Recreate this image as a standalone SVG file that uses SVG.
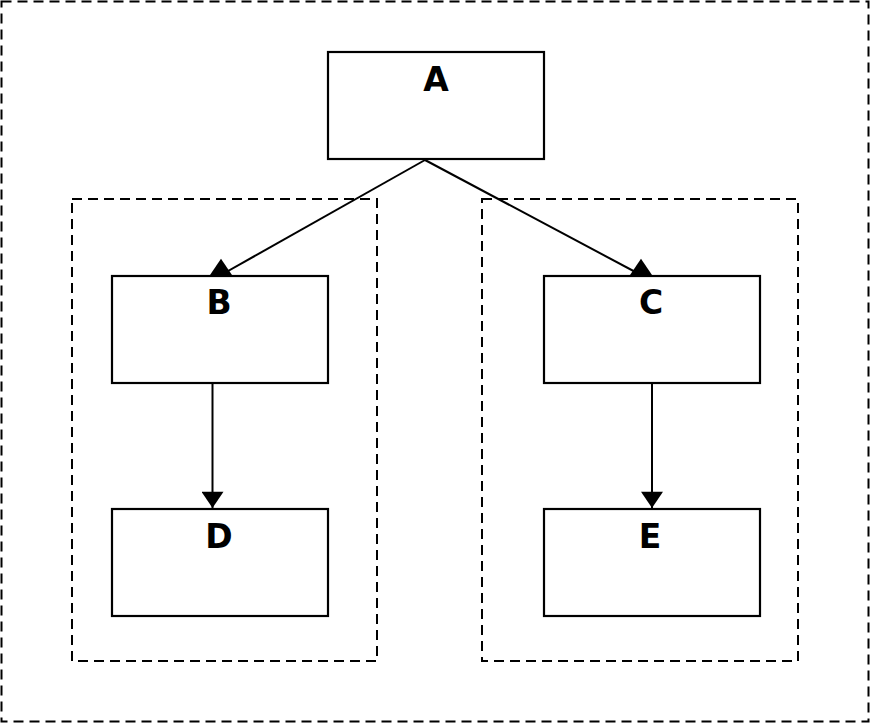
<svg xmlns="http://www.w3.org/2000/svg" width="870" height="724" viewBox="0 0 870 724">
<style>
.cluster{fill:none;stroke:#000;stroke-width:2;stroke-dasharray:10,6}
.box{fill:#fff;stroke:#000;stroke-width:2.2}
.lbl{font-family:"DejaVu Sans",Verdana,sans-serif;font-weight:bold;font-size:33px;fill:#000;text-anchor:middle}
.edge{fill:none;stroke:#000;stroke-width:2}
</style>
<defs>
<marker id="arrowDown" markerUnits="userSpaceOnUse" markerWidth="20" markerHeight="22" refX="14" refY="9.5" orient="auto" viewBox="0 0 14 19">
<path d="M0,0 L14,9.5 L0,19 z" fill="#000"/>
</marker>
<marker id="arrowUp" markerUnits="userSpaceOnUse" markerWidth="20" markerHeight="22" refX="0" refY="9.5" orient="-90" viewBox="0 0 14 19">
<path d="M0,0 L14,9.5 L0,19 z" fill="#000"/>
</marker>
</defs>
<g id="clusters">
<rect id="outer" class="cluster" x="1.5" y="1.5" width="867" height="720"/>
<rect id="left-cluster" class="cluster" x="72" y="199" width="305" height="462"/>
<rect id="right-cluster" class="cluster" x="482" y="199" width="316" height="462"/>
</g>
<g id="connectors">
<line class="edge" x1="425" y1="160" x2="221" y2="275" marker-end="url(#arrowUp)"/>
<line class="edge" x1="425" y1="160" x2="641" y2="275" marker-end="url(#arrowUp)"/>
<line class="edge" x1="212.5" y1="383" x2="212.5" y2="508" marker-end="url(#arrowDown)"/>
<line class="edge" x1="652" y1="383" x2="652" y2="508" marker-end="url(#arrowDown)"/>
</g>
<g id="node-A"><rect class="box" x="328" y="52" width="216" height="107"/><text class="lbl" x="436" y="91">A</text></g>
<g id="node-B"><rect class="box" x="112" y="276" width="216" height="107"/><text class="lbl" x="219" y="314">B</text></g>
<g id="node-C"><rect class="box" x="544" y="276" width="216" height="107"/><text class="lbl" x="651" y="314">C</text></g>
<g id="node-D"><rect class="box" x="112" y="509" width="216" height="107"/><text class="lbl" x="219" y="548">D</text></g>
<g id="node-E"><rect class="box" x="544" y="509" width="216" height="107"/><text class="lbl" x="650" y="548">E</text></g>
</svg>
